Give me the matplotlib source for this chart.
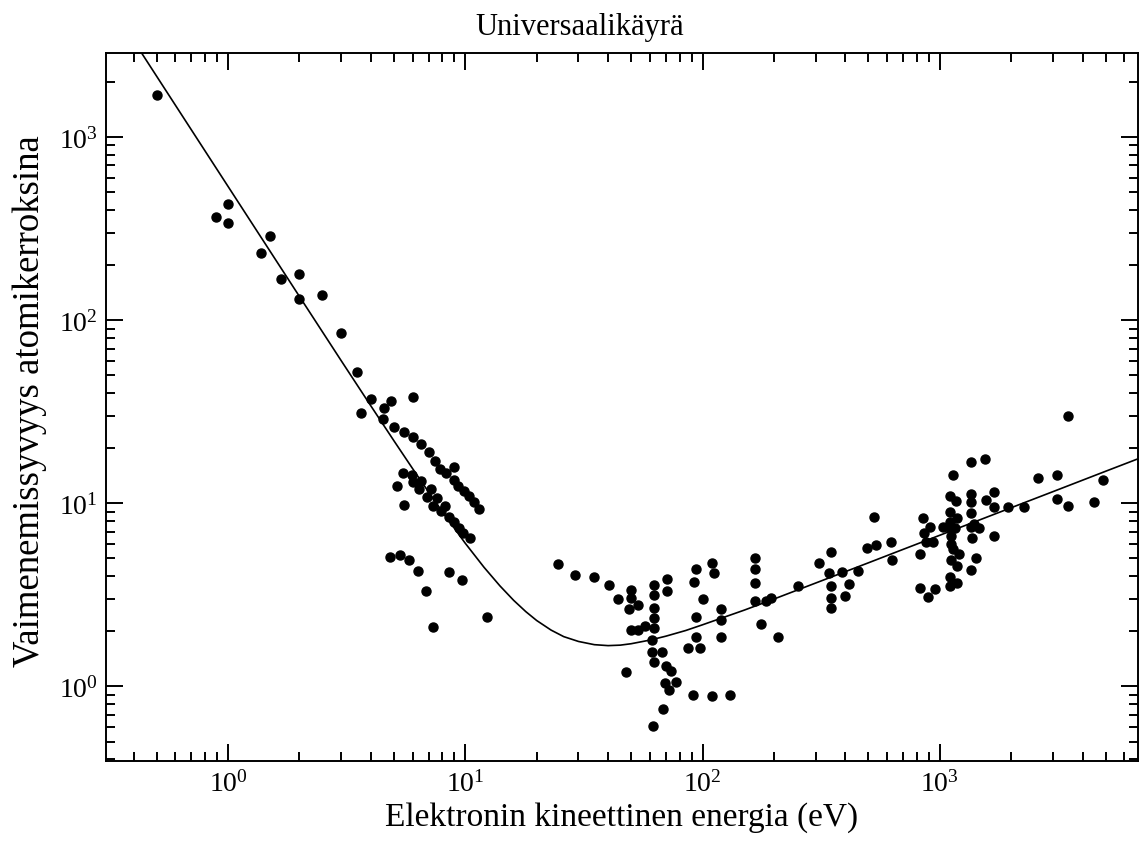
import matplotlib
matplotlib.use("Agg")
import matplotlib.pyplot as plt
from matplotlib.ticker import LogLocator, LogFormatterMathtext, NullFormatter

plt.rcParams['font.family'] = ['Liberation Serif', 'DejaVu Serif']
plt.rcParams['mathtext.fontset'] = 'custom'
plt.rcParams['mathtext.rm'] = 'Liberation Serif'
plt.rcParams['mathtext.it'] = 'Liberation Serif:italic'

title = "Universaalikäyrä"
xlabel = "Elektronin kineettinen energia (eV)"
ylabel = "Vaimenemissyvyys atomikerroksina"

# mitatut pisteet (energia eV, vaimenemissyvyys atomikerroksina)
energy = [0.5, 0.89, 1.0, 1.0, 1.5, 1.38, 1.68, 2.0, 2.0, 2.5, 3.0, 3.5,
          4.0, 3.65, 4.85, 4.55, 6.0, 4.5, 5.0, 5.5, 6.0, 6.5, 7.0, 7.45,
          7.8, 8.3, 9.0, 9.0, 9.3, 9.9, 10.4, 10.9, 11.4,
          5.45, 5.15, 5.5, 5.95, 6.0, 6.5, 6.4, 7.15, 6.9, 7.6, 7.3, 8.2,
          7.9, 8.5, 9.0, 9.4, 9.8, 10.45,
          4.8, 5.3, 5.8, 6.3, 6.8, 7.3, 8.5, 9.65, 12.4,
          24.5, 29, 35, 40.5, 50, 50, 44, 49, 53.5, 50, 53.5, 57,
          62.5, 62.5, 62.5, 62.5, 62.5, 61.5, 61.5, 67.5, 62.5, 70, 74,
          69.5, 77.5, 72, 68, 62, 47.5, 71, 71, 93.5, 92, 110, 112, 100,
          94, 93.5, 87, 98, 91, 110, 130, 120, 120, 120,
          167, 167, 167, 167, 185, 194, 177, 209, 253,
          310, 347, 342, 347, 347, 347, 388, 414, 400, 454, 495, 537, 528,
          620, 630, 850, 826, 858, 909, 872, 938, 826, 895, 955, 1030,
          1100, 1140, 1170, 1100, 1178, 1100, 1090, 1160, 1120, 1110, 1140,
          1210, 1110, 1180, 1100, 1100, 1180, 1360, 1555, 1360, 1360, 1350,
          1350, 1390, 1470, 1365, 1420, 1355, 1565, 1695, 1690, 1690, 1940,
          2270, 2590, 3130, 3110, 3480, 3480, 4470, 4880]
depth = [1700, 365, 430, 340, 290, 233, 167, 178, 130, 138, 85, 52,
         37, 31, 36, 33, 38, 29, 26, 24.5, 23, 21, 19, 17,
         15.4, 14.6, 15.8, 13.4, 12.5, 11.7, 10.9, 10.2, 9.3,
         14.6, 12.4, 9.8, 14.3, 13.1, 13.2, 11.9, 11.9, 10.8, 10.7, 9.7, 9.7,
         9.1, 8.4, 7.9, 7.3, 6.9, 6.45,
         5.1, 5.2, 4.9, 4.25, 3.3, 2.12, 4.2, 3.8, 2.4,
         4.65, 4.05, 3.95, 3.6, 3.35, 3.05, 3.0, 2.66, 2.77, 2.02, 2.02, 2.13,
         3.6, 3.15, 2.68, 2.36, 2.08, 1.79, 1.55, 1.55, 1.36, 1.29, 1.21,
         1.05, 1.06, 0.96, 0.75, 0.61, 1.2, 3.85, 3.33, 4.4, 3.72, 4.7, 4.15, 3.0,
         2.38, 1.87, 1.63, 1.62, 0.9, 0.89, 0.9, 2.65, 2.3, 1.85,
         5.0, 4.35, 3.68, 2.93, 2.92, 3.05, 2.18, 1.85, 3.55,
         4.7, 5.4, 4.15, 3.54, 3.03, 2.68, 4.2, 3.62, 3.12, 4.27, 5.7, 5.9, 8.4,
         6.15, 4.93, 8.3, 5.3, 6.9, 7.4, 6.15, 6.15, 3.44, 3.06, 3.4, 7.45,
         10.9, 14.3, 10.3, 9.0, 8.3, 7.9, 7.4, 7.3, 6.67, 6.0, 5.6,
         5.3, 4.9, 4.52, 3.97, 3.53, 3.66, 16.8, 17.5, 11.2, 10.2, 8.9,
         7.4, 7.7, 7.3, 6.5, 5.0, 4.3, 10.4, 11.5, 9.6, 6.67, 9.6,
         9.55, 13.8, 14.3, 10.5, 9.7, 30, 10.2, 13.4]

# universaalikäyrä luettuna kuvasta
curve_e = [0.43, 0.5, 0.7, 1, 1.5, 2, 3, 4, 5, 6, 7, 8, 10, 12, 14, 16, 18,
           20, 23, 26, 30, 35, 40, 45, 50, 60, 70, 85, 100, 150, 200, 300,
           500, 700, 1000, 1500, 2000, 3000, 5000, 6850]
curve_l = [2910, 2152, 1098, 538.2, 239.4, 134.8, 60.1, 34.05, 21.99, 15.46,
           11.54, 9.0, 6.05, 4.47, 3.54, 2.95, 2.56, 2.29, 2.03, 1.87, 1.76,
           1.69, 1.67, 1.68, 1.71, 1.79, 1.88, 2.02, 2.17, 2.61, 3.0, 3.67,
           4.73, 5.6, 6.69, 8.19, 9.46, 11.58, 14.96, 17.5]

fig = plt.figure(figsize=(11.41, 8.45), dpi=100)
ax = fig.add_axes([0.0929, 0.0979, 0.9045, 0.8382])

ax.plot(curve_e, curve_l, color='black', lw=1.2)
ax.plot(energy, depth, 'o', color='black', ms=6.5, mec='black')

ax.set_xscale('log')
ax.set_yscale('log')
ax.set_xlim(0.306, 6850)
ax.set_ylim(0.39, 2880)

for axis in (ax.xaxis, ax.yaxis):
    axis.set_major_locator(LogLocator(base=10, numticks=12))
    axis.set_minor_locator(LogLocator(base=10, subs=range(2, 10), numticks=12))
    axis.set_major_formatter(LogFormatterMathtext())
    axis.set_minor_formatter(NullFormatter())

ax.tick_params(which='both', direction='in', top=True, right=True, width=1.4)
ax.tick_params(which='major', length=12.5, labelsize=20, pad=6)
ax.tick_params(which='minor', length=6.5)
for s in ax.spines.values():
    s.set_linewidth(1.4)

ax.set_title(title, fontsize=22, pad=14, x=0.459)
ax.set_xlabel(xlabel, fontsize=24, labelpad=4)
ax.set_ylabel(ylabel, fontsize=26.5, labelpad=8)
ax.yaxis.set_label_coords(-0.057, 0.51)

fig.savefig("out.png", dpi=100)
